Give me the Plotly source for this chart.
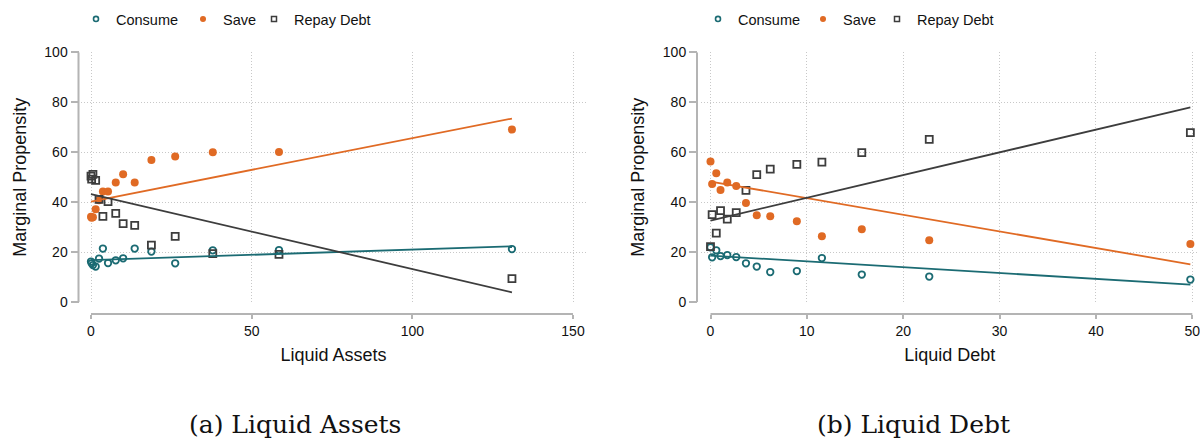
import plotly.graph_objects as go

# ---------------- data ----------------
# Panel (a): Liquid Assets
assets_x = [0.0, 0.2, 0.6, 1.45, 2.5, 3.7, 5.3, 7.7, 10.0, 13.6, 18.8, 26.2, 37.9, 58.5, 131.0]
consume_a = [16.3, 15.6, 14.9, 14.3, 17.5, 21.5, 15.7, 16.8, 17.6, 21.5, 20.3, 15.6, 20.8, 20.9, 21.3]
save_a = [34.2, 33.8, 34.0, 37.2, 40.8, 44.3, 44.3, 47.9, 51.2, 47.9, 56.9, 58.3, 60.0, 60.1, 69.1]
repay_a = [50.5, 49.3, 51.2, 48.8, 41.2, 34.4, 40.3, 35.6, 31.5, 30.8, 22.9, 26.4, 19.5, 19.2, 9.5]
fit_x_a = [0.0, 131.0]
consume_fit_a = [16.9, 22.4]
save_fit_a = [40.3, 73.5]
repay_fit_a = [43.3, 4.0]

# Panel (b): Liquid Debt
debt_x = [0.0, 0.17, 0.6, 1.04, 1.74, 2.67, 3.68, 4.8, 6.2, 8.96, 11.56, 15.7, 22.7, 49.8]
consume_b = [22.0, 18.0, 20.8, 18.5, 18.9, 18.1, 15.6, 14.3, 12.1, 12.5, 17.7, 11.1, 10.3, 9.1]
save_b = [56.3, 47.3, 51.6, 44.9, 47.9, 46.5, 39.7, 34.8, 34.4, 32.4, 26.4, 29.2, 24.8, 23.3]
repay_b = [22.3, 35.1, 27.7, 36.7, 33.3, 35.9, 44.8, 51.1, 53.3, 55.2, 56.1, 59.9, 65.2, 67.9]
fit_x_b = [0.0, 49.8]
consume_fit_b = [18.7, 7.1]
save_fit_b = [48.3, 15.2]
repay_fit_b = [32.7, 78.0]

series_names = ["Consume", "Save", "Repay Debt"]
y_ticks = [0, 20, 40, 60, 80, 100]
x_ticks_a = [0, 50, 100, 150]
x_ticks_b = [0, 10, 20, 30, 40, 50]
captions = ["(a) Liquid Assets", "(b) Liquid Debt"]
x_titles = ["Liquid Assets", "Liquid Debt"]
y_title = "Marginal Propensity"

# ---------------- style ----------------
W, H = 1200, 438
TEAL = "#1b6b73"
ORANGE = "#e06a24"
GRAY = "#3d3d3d"
AXIS = "#b4b4b4"
GRID = "#c8c8c8"
FONT = "Liberation Sans, Arial, sans-serif"


def pxx(v):
    """pixel x -> paper fraction"""
    return v / W


def pxy(v):
    """pixel y (from top) -> paper fraction"""
    return (H - v) / H


marker_styles = [
    dict(symbol="circle-open", size=6.5, color=TEAL, line=dict(width=1.8, color=TEAL)),
    dict(symbol="circle", size=8, color=ORANGE),
    dict(symbol="square-open", size=7, color=GRAY, line=dict(width=1.8, color=GRAY)),
]
legend_marker_styles = [
    dict(symbol="circle-open", size=5, color=TEAL, line=dict(width=1.6, color=TEAL)),
    dict(symbol="circle", size=6, color=ORANGE),
    dict(symbol="square-open", size=5, color=GRAY, line=dict(width=1.5, color=GRAY)),
]
line_colors = [TEAL, ORANGE, GRAY]

panels = [
    dict(x=assets_x, ys=[consume_a, save_a, repay_a], fx=fit_x_a,
         fits=[consume_fit_a, save_fit_a, repay_fit_a], xa="x", ya="y",
         legend_x=[95, 202, 273]),
    dict(x=debt_x, ys=[consume_b, save_b, repay_b], fx=fit_x_b,
         fits=[consume_fit_b, save_fit_b, repay_fit_b], xa="x2", ya="y2",
         legend_x=[717, 822, 896]),
]

fig = go.Figure()
legend_layouts = {}
lg_counter = 0
for p in panels:
    for i, name in enumerate(series_names):
        fig.add_trace(go.Scatter(x=p["x"], y=p["ys"][i], mode="markers", name=name,
                                 marker=marker_styles[i], xaxis=p["xa"], yaxis=p["ya"],
                                 showlegend=False, cliponaxis=False))
    for i, name in enumerate(series_names):
        fig.add_trace(go.Scatter(x=p["fx"], y=p["fits"][i], mode="lines", name=name + " fit",
                                 line=dict(color=line_colors[i], width=1.8),
                                 xaxis=p["xa"], yaxis=p["ya"], showlegend=False))
    for i, name in enumerate(series_names):
        lg_counter += 1
        lg_id = "legend" if lg_counter == 1 else "legend%d" % lg_counter
        fig.add_trace(go.Scatter(x=[None], y=[None], mode="markers", name=name,
                                 marker=legend_marker_styles[i], xaxis=p["xa"], yaxis=p["ya"],
                                 showlegend=True, legend=lg_id))
        legend_layouts[lg_id] = dict(
            orientation="h", x=pxx(p["legend_x"][i] - 19), y=pxy(19),
            xanchor="left", yanchor="middle",
            font=dict(size=14.5, color="#111", family=FONT), bgcolor="rgba(0,0,0,0)")

# geometry (pixels)
y_top, y_bot = 52.3, 302.3
xaxis_line_y = 314
left = dict(g0=81, g1=586, zero=91, end=573, tmax=150, yline=78.5)
right = dict(g0=700.7, g1=1199, zero=710.5, end=1192.3, tmax=50, yline=697)


def x_range(g):
    ppu = (g["end"] - g["zero"]) / g["tmax"]
    return [-(g["zero"] - g["g0"]) / ppu, (g["g1"] - g["zero"]) / ppu]


common_x = dict(anchor="free", position=pxy(xaxis_line_y), ticks="outside", ticklen=4,
                tickwidth=1.5, tickcolor=AXIS, showline=False, showgrid=True,
                gridcolor=GRID, griddash="1px,2px", gridwidth=1, zeroline=False, automargin=False,
                ticklabeloverflow="allow",
                tickfont=dict(size=14, color="#111", family=FONT))
common_y = dict(anchor="free", range=[0, 100], tickvals=y_ticks, ticks="outside", ticklen=8,
                tickwidth=1.5, tickcolor=AXIS, showline=False, showgrid=True,
                gridcolor=GRID, griddash="1px,2px", gridwidth=1, zeroline=False, automargin=False,
                domain=[pxy(y_bot), pxy(y_top)],
                tickfont=dict(size=14, color="#111", family=FONT),
                title=dict(text=y_title, font=dict(size=18, color="#111", family=FONT), standoff=12))

fig.update_layout(
    width=W, height=H, margin=dict(l=0, r=0, t=0, b=0, autoexpand=False),
    paper_bgcolor="white", plot_bgcolor="white",
    font=dict(family=FONT, color="#111"),
    xaxis=dict(domain=[pxx(left["g0"]), pxx(left["g1"])], range=x_range(left),
               tickvals=x_ticks_a,
               title=dict(text=x_titles[0], font=dict(size=18, color="#111", family=FONT), standoff=10),
               **common_x),
    yaxis=dict(position=pxx(left["yline"]), **common_y),
    xaxis2=dict(domain=[pxx(right["g0"]), pxx(right["g1"])], range=x_range(right),
                tickvals=x_ticks_b,
                title=dict(text=x_titles[1], font=dict(size=18, color="#111", family=FONT), standoff=10),
                **common_x),
    yaxis2=dict(position=pxx(right["yline"]), **common_y),
    showlegend=True,
    **legend_layouts,
)

# axis lines spanning only the tick range (Stata style)
shapes = []
for g, xr, yr, ticks in [(left, "x", "y", x_ticks_a), (right, "x2", "y2", x_ticks_b)]:
    shapes.append(dict(type="line", xref=xr, yref="paper", x0=ticks[0], x1=ticks[-1],
                       y0=pxy(xaxis_line_y), y1=pxy(xaxis_line_y),
                       line=dict(color=AXIS, width=2)))
    shapes.append(dict(type="line", xref="paper", yref=yr, x0=pxx(g["yline"]), x1=pxx(g["yline"]),
                       y0=y_ticks[0], y1=y_ticks[-1], line=dict(color=AXIS, width=2)))
fig.update_layout(shapes=shapes)

# sub-figure captions
for cap, cx in zip(captions, [295, 913]):
    fig.add_annotation(text=cap, x=pxx(cx), y=pxy(424), xref="paper", yref="paper",
                       xanchor="center", yanchor="middle", showarrow=False,
                       font=dict(size=25, family="DejaVu Serif, serif", color="#111"))

fig.write_html(
    "out.html",
    config={"displayModeBar": False},
    post_script="document.body.style.margin='0';"
                "document.documentElement.style.overflow='hidden';"
                "document.body.style.overflow='hidden';",
)
